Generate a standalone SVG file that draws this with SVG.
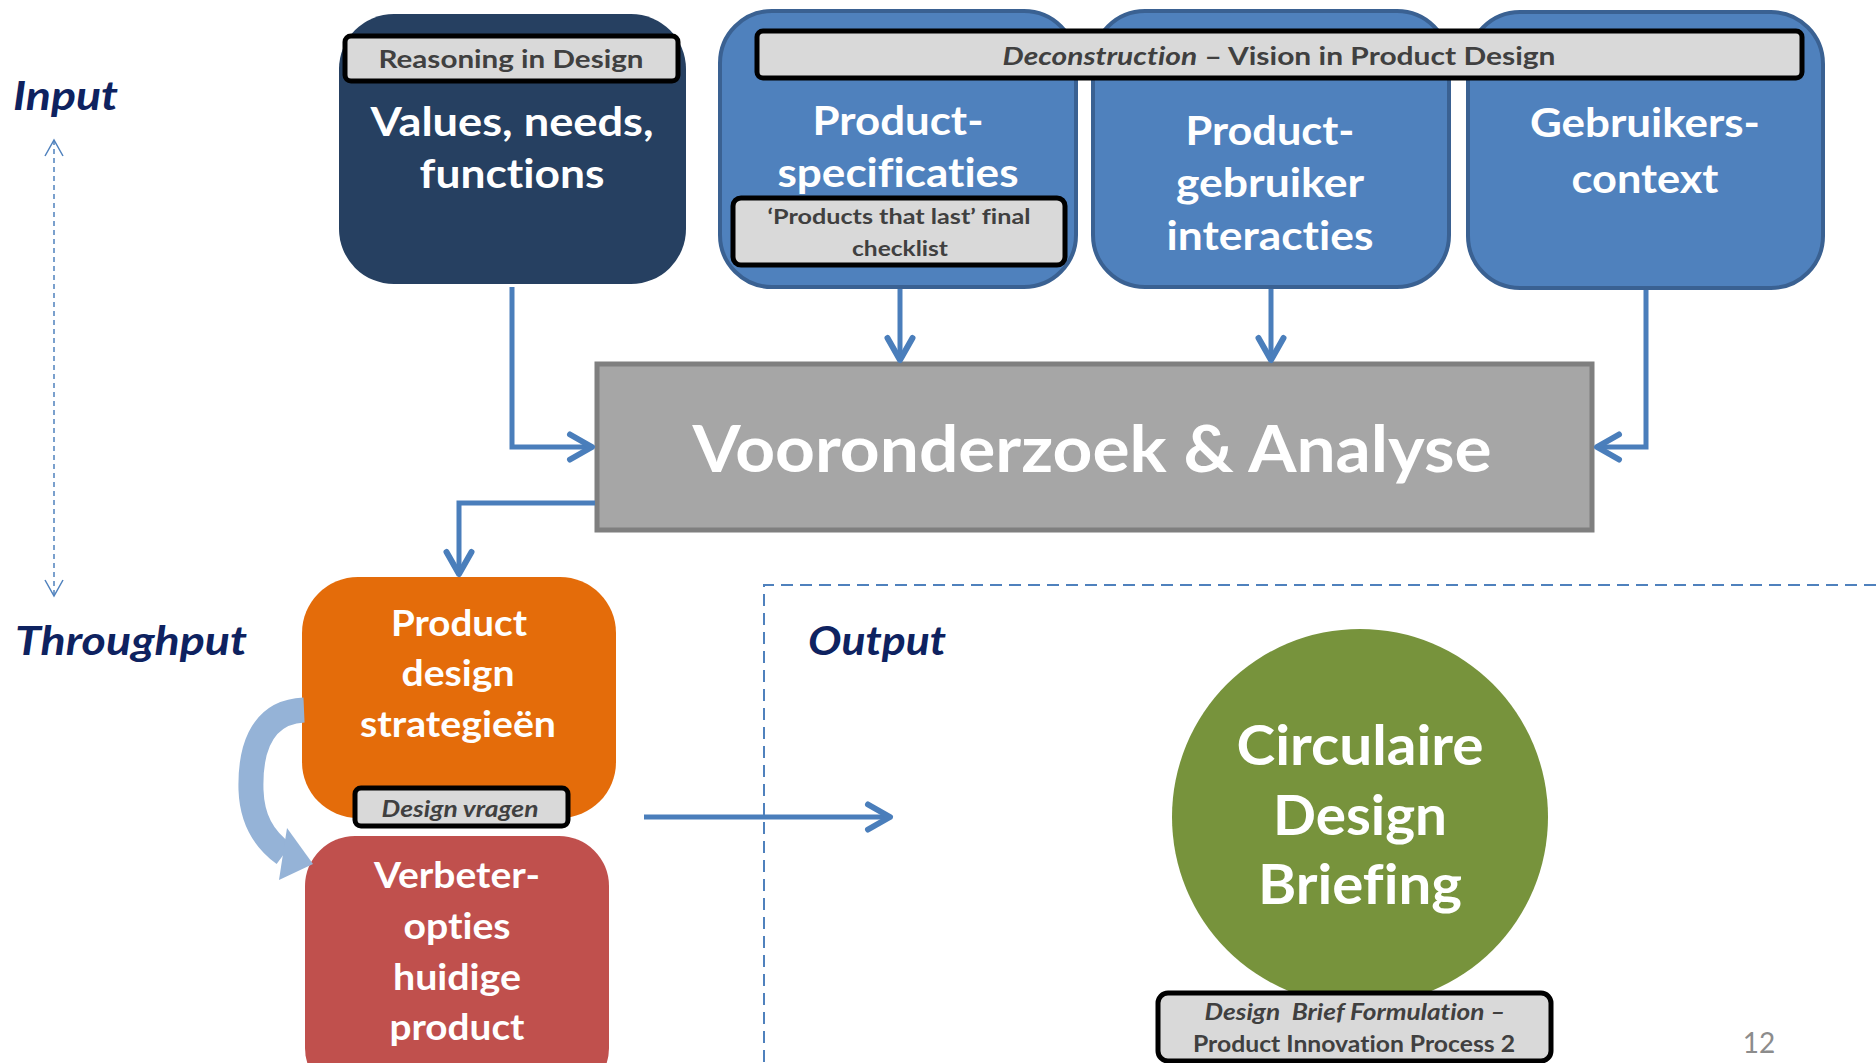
<svg xmlns="http://www.w3.org/2000/svg" width="1876" height="1063" viewBox="0 0 1876 1063">
<defs>
<style>
text{font-variant-ligatures:none;font-feature-settings:"liga" 0,"clig" 0}
.t{font-family:Lato,"Open Sans","Liberation Sans",sans-serif;font-weight:700;text-anchor:middle}
.w{fill:#ffffff}
.lab{fill:#D9D9D9;stroke:#000000;stroke-width:5}
.lt{fill:#404040}
.side{font-family:Lato,"Open Sans","Liberation Sans",sans-serif;font-weight:700;font-style:italic;fill:#0E2260;font-size:40px}
.blue{fill:#4F81BD;stroke:#3A6192;stroke-width:4}
.con{fill:none;stroke:#4A7EBB;stroke-width:5;stroke-linejoin:miter}
</style>
<marker id="chev" markerUnits="userSpaceOnUse" orient="auto" refX="0" refY="0" markerWidth="30" markerHeight="30" overflow="visible">
<path d="M -22 -12.5 L 0 0 L -22 12.5" fill="none" stroke="#4A7EBB" stroke-width="6" stroke-linecap="round" stroke-linejoin="round"/>
</marker>
<marker id="thin" markerUnits="userSpaceOnUse" orient="auto-start-reverse" refX="0" refY="0" markerWidth="20" markerHeight="20" overflow="visible">
<path d="M -16 -9 L 0 0 L -16 9" fill="none" stroke="#4F81BD" stroke-width="1.5"/>
</marker>
</defs>
<rect width="1876" height="1063" fill="#ffffff"/>

<g id="side-labels">
<text class="side" x="13" y="110" textLength="105" lengthAdjust="spacingAndGlyphs">Input</text>
<text class="side" x="15" y="655" textLength="232" lengthAdjust="spacingAndGlyphs">Throughput</text>
<text class="side" x="808" y="655" textLength="138" lengthAdjust="spacingAndGlyphs">Output</text>
<path d="M 54 140 V 596" fill="none" stroke="#4F81BD" stroke-width="1.5" stroke-dasharray="5 4" marker-start="url(#thin)" marker-end="url(#thin)"/>
</g>

<g id="output-region">
<path d="M 1876 585 H 764 V 1063" fill="none" stroke="#4F81BD" stroke-width="2" stroke-dasharray="12 7"/>
</g>

<g id="node-values">
<rect x="339" y="14" width="347" height="270" rx="55" fill="#264061"/>
<rect class="lab" x="345" y="36" width="333" height="45" rx="6"/>
<text class="t lt" x="511" y="68" font-size="25" textLength="265" lengthAdjust="spacingAndGlyphs">Reasoning in Design</text>
<text class="t w" x="512" y="136" font-size="41" textLength="283" lengthAdjust="spacingAndGlyphs">Values, needs,</text>
<text class="t w" x="512" y="188" font-size="41" textLength="185" lengthAdjust="spacingAndGlyphs">functions</text>
</g>

<g id="node-specs">
<rect class="blue" x="720" y="11" width="356" height="276" rx="52"/>
<text class="t w" x="898" y="135" font-size="41" textLength="171" lengthAdjust="spacingAndGlyphs">Product-</text>
<text class="t w" x="898" y="187" font-size="41" textLength="241" lengthAdjust="spacingAndGlyphs">specificaties</text>
<rect class="lab" x="733" y="198" width="332" height="67" rx="8"/>
<text class="t lt" x="899" y="224" font-size="20" textLength="263" lengthAdjust="spacingAndGlyphs">‘Products that last’ final</text>
<text class="t lt" x="900" y="256" font-size="20" textLength="96" lengthAdjust="spacingAndGlyphs">checklist</text>
</g>

<g id="node-interactions">
<rect class="blue" x="1093" y="11" width="356" height="276" rx="52"/>
<text class="t w" x="1270" y="145" font-size="41" textLength="169" lengthAdjust="spacingAndGlyphs">Product-</text>
<text class="t w" x="1270" y="197" font-size="41" textLength="188" lengthAdjust="spacingAndGlyphs">gebruiker</text>
<text class="t w" x="1270" y="250" font-size="41" textLength="207" lengthAdjust="spacingAndGlyphs">interacties</text>
</g>

<g id="node-context">
<rect class="blue" x="1468" y="12" width="355" height="276" rx="52"/>
<text class="t w" x="1645" y="137" font-size="41" textLength="230" lengthAdjust="spacingAndGlyphs">Gebruikers-</text>
<text class="t w" x="1645" y="193" font-size="41" textLength="147" lengthAdjust="spacingAndGlyphs">context</text>
</g>

<g id="deconstruction-label">
<rect class="lab" x="757" y="31" width="1045" height="47" rx="6"/>
<text class="t lt" x="1279" y="65" font-size="24" font-weight="400" textLength="553" lengthAdjust="spacingAndGlyphs"><tspan font-style="italic">Deconstruction</tspan> – Vision in Product Design</text>
</g>

<g id="node-analyse">
<rect x="597" y="364" width="995" height="166" fill="#A6A6A6" stroke="#7F7F7F" stroke-width="5"/>
<text class="t w" x="1092" y="472" font-size="65" textLength="799" lengthAdjust="spacingAndGlyphs">Vooronderzoek &amp; Analyse</text>
</g>

<g id="node-strategies">
<rect x="302" y="577" width="314" height="241" rx="56" fill="#E46C0A"/>
<text class="t w" x="459" y="636" font-size="37" textLength="136" lengthAdjust="spacingAndGlyphs">Product</text>
<text class="t w" x="458" y="686" font-size="37" textLength="113" lengthAdjust="spacingAndGlyphs">design</text>
<text class="t w" x="458" y="737" font-size="37" textLength="196" lengthAdjust="spacingAndGlyphs">strategieën</text>
<rect class="lab" x="355" y="788" width="213" height="38" rx="6"/>
<text class="t lt" x="460" y="817" font-size="23" font-style="italic" textLength="157" lengthAdjust="spacingAndGlyphs">Design vragen</text>
</g>

<g id="node-options">
<rect x="305" y="836" width="304" height="262" rx="50" fill="#C0504D"/>
<text class="t w" x="457" y="888" font-size="37" textLength="166" lengthAdjust="spacingAndGlyphs">Verbeter-</text>
<text class="t w" x="457" y="939" font-size="37" textLength="107" lengthAdjust="spacingAndGlyphs">opties</text>
<text class="t w" x="457" y="990" font-size="37" textLength="128" lengthAdjust="spacingAndGlyphs">huidige</text>
<text class="t w" x="457" y="1040" font-size="37" textLength="135" lengthAdjust="spacingAndGlyphs">product</text>
</g>

<g id="node-briefing">
<circle cx="1360" cy="817" r="188" fill="#77933C"/>
<text class="t w" x="1360" y="765" font-size="56" textLength="247" lengthAdjust="spacingAndGlyphs">Circulaire</text>
<text class="t w" x="1360" y="835" font-size="56" textLength="174" lengthAdjust="spacingAndGlyphs">Design</text>
<text class="t w" x="1360" y="904" font-size="56" textLength="204" lengthAdjust="spacingAndGlyphs">Briefing</text>
<rect class="lab" x="1158" y="993" width="393" height="68" rx="10"/>
<text class="t lt" x="1355" y="1020" font-size="22" font-style="italic" style="white-space:pre" textLength="301" lengthAdjust="spacingAndGlyphs">Design  Brief Formulation –</text>
<text class="t lt" x="1354" y="1052" font-size="22" textLength="322" lengthAdjust="spacingAndGlyphs">Product Innovation Process 2</text>
</g>

<g id="page-number">
<text x="1759" y="1053" font-family="Lato,'Open Sans','Liberation Sans',sans-serif" font-size="28" fill="#8C8C8C" text-anchor="middle">12</text>
</g>

<g id="connectors">
<path class="con" d="M 512 287 V 447 H 592" marker-end="url(#chev)"/>
<path class="con" d="M 595 503 H 459 V 574" marker-end="url(#chev)"/>
<path class="con" d="M 900 289 V 360" marker-end="url(#chev)"/>
<path class="con" d="M 1271 289 V 360" marker-end="url(#chev)"/>
<path class="con" d="M 1646 290 V 447 H 1597" marker-end="url(#chev)"/>
<path class="con" d="M 644 817 H 890" marker-end="url(#chev)"/>
<g id="loop-arrow">
<path d="M 304 710 C 258 712, 250 755, 251 790 C 252 818, 262 838, 284 854" fill="none" stroke="#95B3D7" stroke-width="25"/>
<polygon points="287,828 313,864 279,880" fill="#95B3D7"/>
</g>
</g>
</svg>
